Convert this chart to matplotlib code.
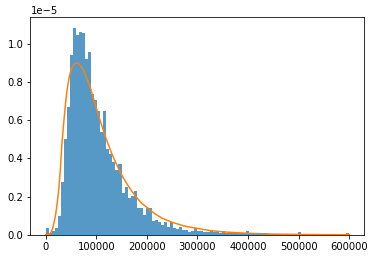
import numpy as np
import matplotlib
matplotlib.use('Agg')
import matplotlib.pyplot as plt

# histogram: 100 bins of width 6000 from 0 to 600000, density in units of 1e-5
bin_edges = np.linspace(0, 600000, 101)
bar_heights = [
    0.035, 0.012, 0.020, 0.035, 0.098, 0.278, 0.500, 0.667, 0.940, 1.084,
    1.045, 1.063, 1.056, 0.918, 0.958, 0.735, 0.707, 0.646, 0.540, 0.650,
    0.450, 0.424, 0.384, 0.337, 0.372, 0.220, 0.253, 0.195, 0.206, 0.230,
    0.143, 0.143, 0.105, 0.140, 0.140, 0.075, 0.079, 0.065, 0.054, 0.065,
    0.044, 0.065, 0.038, 0.033, 0.044, 0.028, 0.028, 0.017, 0.019, 0.037,
    0.023, 0.019, 0.016, 0.016, 0.019, 0.014, 0.014, 0.010, 0.019, 0.010,
    0.010, 0.009, 0.010, 0.008, 0.012, 0.009, 0.023, 0.009, 0.008, 0.009,
    0.007, 0.008, 0.010, 0.004, 0.003, 0.005, 0.003, 0.004, 0.002, 0.003,
    0.003, 0.002, 0.003, 0.016, 0.002, 0.000, 0.002, 0.000, 0.002, 0.000,
    0.002, 0.000, 0.000, 0.002, 0.000, 0.002, 0.000, 0.000, 0.002, 0.012,
]

# fitted pdf (units of 1e-5)
curve_x = [0, 5000, 8000, 11000, 14000, 17000, 20000, 23000, 26000, 29000,
           32000, 35000, 38000, 41000, 44000, 47000, 50000, 53000, 56000,
           59000, 62000, 65000, 70000, 75000, 80000, 85000, 90000, 95000,
           100000, 105000, 110000, 115000, 120000, 130000, 140000, 150000,
           160000, 170000, 180000, 190000, 200000, 215000, 230000, 250000,
           275000, 300000, 325000, 350000, 375000, 400000, 450000, 500000,
           550000, 600000]
curve_y = [0.0, 0.001, 0.004, 0.015, 0.036, 0.070, 0.110, 0.170, 0.240, 0.340,
           0.470, 0.565, 0.650, 0.730, 0.785, 0.830, 0.860, 0.882, 0.893,
           0.899, 0.899, 0.895, 0.882, 0.860, 0.830, 0.795, 0.755, 0.710,
           0.665, 0.620, 0.580, 0.540, 0.500, 0.430, 0.370, 0.315,
           0.270, 0.230, 0.195, 0.165, 0.145, 0.112, 0.088, 0.066,
           0.046, 0.034, 0.023, 0.016, 0.012, 0.0085, 0.0045, 0.0025,
           0.0014, 0.0008]

scale = 1e-5
centers = (bin_edges[:-1] + bin_edges[1:]) / 2

fig = plt.figure(figsize=(376 / 72, 259 / 72), dpi=72)
ax = fig.add_axes([0.081, 0.093, 0.888, 0.840])
ax.hist(centers, bins=bin_edges, weights=np.array(bar_heights) * scale, alpha=0.75)
ax.plot(curve_x, np.array(curve_y) * scale)

fig.savefig('out.png', dpi=72)
